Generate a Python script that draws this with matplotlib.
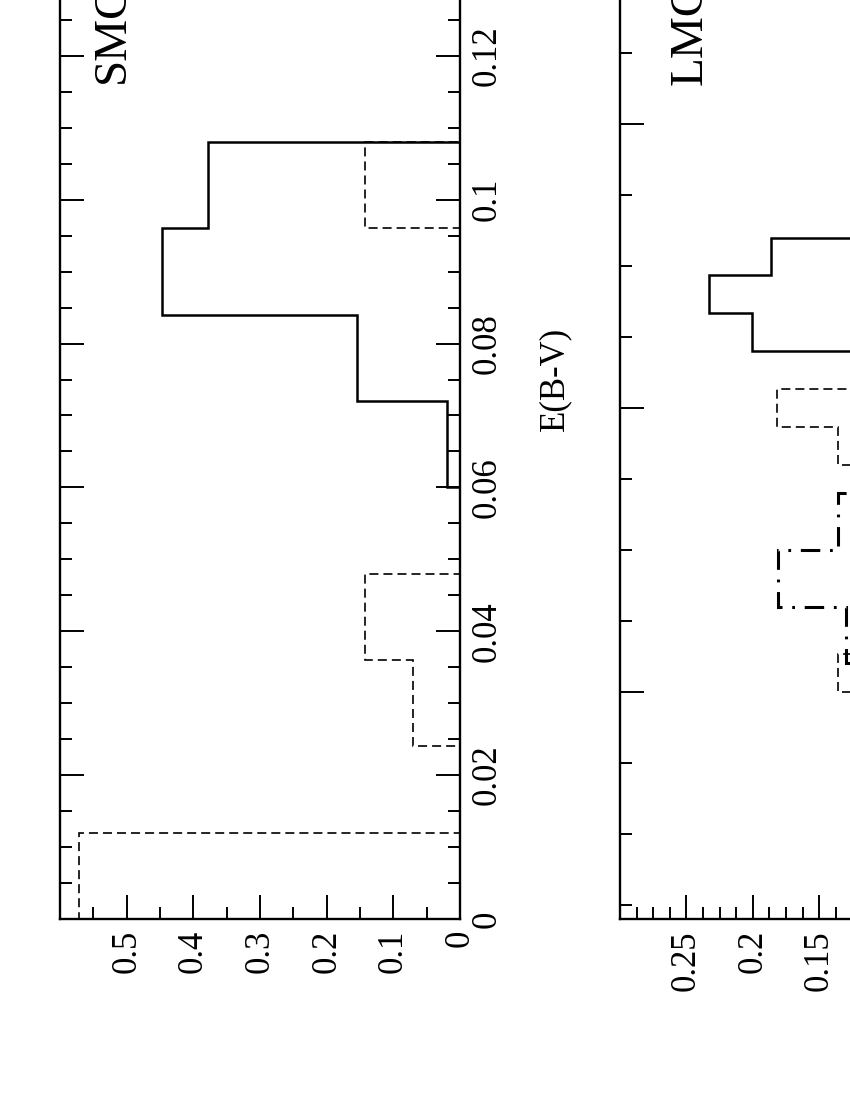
import numpy as np
import matplotlib
matplotlib.use('Agg')
import matplotlib.pyplot as plt
from matplotlib.ticker import MultipleLocator, FormatStrFormatter

plt.rcParams['font.family'] = ['Liberation Serif', 'DejaVu Serif']
plt.rcParams['lines.scale_dashes'] = False

# SMC histograms (fraction of stars per E(B-V) bin)
smc_edges = [0.0, 0.012, 0.024, 0.036, 0.048, 0.060, 0.072, 0.084, 0.096, 0.108]
smc_solid = [0, 0, 0, 0, 0, 0.020, 0.155, 0.447, 0.378]
smc_dashed = [0.571, 0, 0.071, 0.143, 0, 0, 0, 0, 0.143]

# LMC histograms
lmc_edges = [0.0867, 0.1, 0.1133, 0.1267, 0.14, 0.1533, 0.1667, 0.18,
             0.1933, 0.2067, 0.22, 0.2333, 0.2467, 0.26, 0.2733]
lmc_solid = [0, 0, 0, 0, 0, 0, 0.01, 0.04, 0.08, 0.12, 0.201, 0.233, 0.186, 0.09]
lmc_dashed = [0.05, 0.136, 0.09, 0.07, 0.05, 0.08, 0.10, 0.136, 0.182, 0.05, 0, 0, 0, 0]
lmc_dd_edges = [0.07, 0.09, 0.11, 0.13, 0.15, 0.17, 0.19, 0.21, 0.23]
lmc_dashdot = [0.03, 0.10, 0.13, 0.181, 0.136, 0.11, 0.09, 0.06]

W, H = 850, 1100
fig = plt.figure(figsize=(8.5, 11), dpi=100)

ax1 = fig.add_axes([60 / W, 1 - 919 / H, 400 / W, 1079 / H])
ax2 = fig.add_axes([620 / W, 1 - 919 / H, 398.5 / W, 1079 / H])

dash = (0, (6.5, 3.6))
dashdot = (0, (14, 7, 2, 7))

ax1.stairs(smc_solid, smc_edges, orientation='horizontal', color='black', lw=1.8)
ax1.stairs(smc_dashed, smc_edges, orientation='horizontal', color='black', lw=1.2, linestyle=dash)

ax2.stairs(lmc_solid, lmc_edges, orientation='horizontal', color='black', lw=1.8)
ax2.stairs(lmc_dashed, lmc_edges, orientation='horizontal', color='black', lw=1.2, linestyle=dash)
ax2.stairs(lmc_dashdot, lmc_dd_edges, orientation='horizontal', color='black', lw=2.2, linestyle=dashdot)

ax1.set_xlim(0.6, 0)
ax1.set_ylim(0, 0.15)
ax1.set_xticks([0, 0.1, 0.2, 0.3, 0.4, 0.5])
ax1.xaxis.set_minor_locator(MultipleLocator(0.05))
ax1.yaxis.set_major_locator(MultipleLocator(0.02))
ax1.yaxis.set_minor_locator(MultipleLocator(0.005))

ax2.set_xlim(0.3, 0)
ax2.set_ylim(0.02, 0.4)
ax2.set_xticks([0, 0.05, 0.1, 0.15, 0.2, 0.25])
ax2.xaxis.set_minor_locator(MultipleLocator(0.0125))
ax2.yaxis.set_major_locator(MultipleLocator(0.1))
ax2.yaxis.set_minor_locator(MultipleLocator(0.025))

for ax in (ax1, ax2):
    for s in ax.spines.values():
        s.set_linewidth(1.7)
    ax.xaxis.set_major_formatter(FormatStrFormatter('%g'))
    ax.yaxis.set_major_formatter(FormatStrFormatter('%g'))
    ax.tick_params(which='both', direction='in', top=True, bottom=True,
                   left=True, right=True, labelleft=False, labelright=True,
                   width=1.4, labelsize=25, pad=8)
    ax.tick_params(which='major', length=17)
    ax.tick_params(which='minor', length=8.5)
    ax.tick_params(axis='x', labelrotation=90)
    ax.tick_params(axis='y', labelrotation=90)

fig.text(113 / W, 1 - 83 / H, 'SMC', rotation=90, ha='center', va='bottom', fontsize=34)
fig.text(690 / W, 1 - 85 / H, 'LMC', rotation=90, ha='center', va='bottom', fontsize=34)
fig.text(555 / W, 1 - 379 / H, 'E(B-V)', rotation=90, ha='center', va='center', fontsize=25)

# center the rotated E(B-V) tick labels on their ticks
fig.canvas.draw()
for ax in (ax1, ax2):
    for t in ax.yaxis.get_major_ticks():
        t.label2.set_verticalalignment('center')

fig.savefig('out.png', dpi=100)
